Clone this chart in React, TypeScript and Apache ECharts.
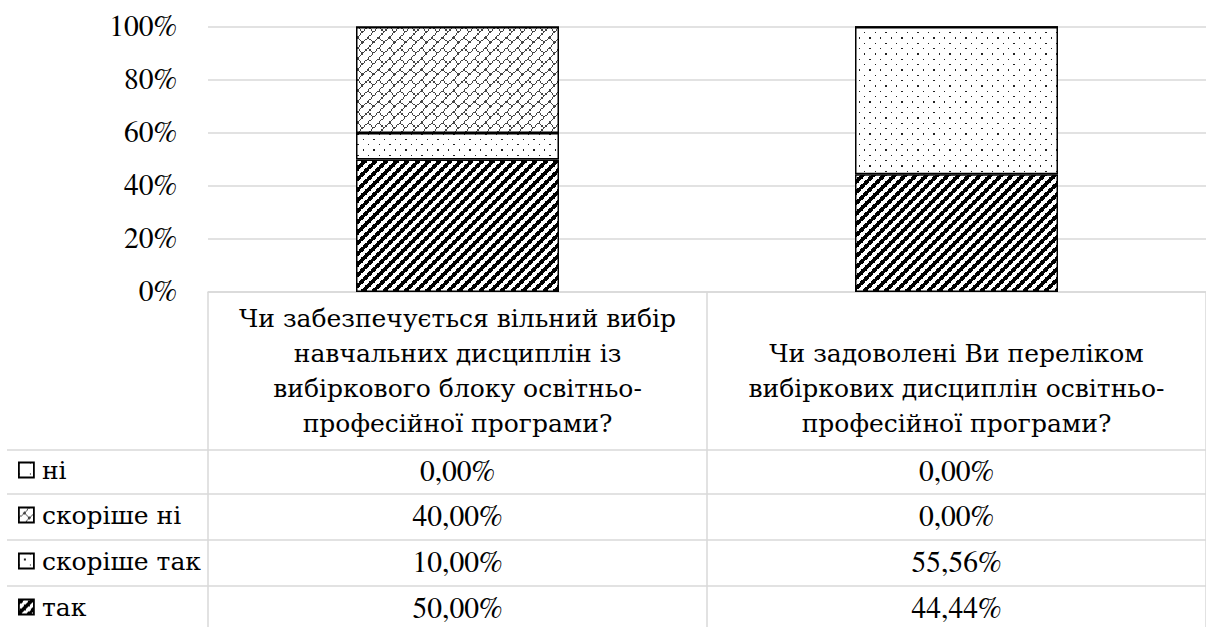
import React, { useEffect, useRef } from 'react';
import * as echarts from 'echarts';

// ---------- data ----------
const CATEGORIES = [
  'Чи забезпечується вільний вибір\nнавчальних дисциплін із\nвибіркового блоку освітньо-\nпрофесійної програми?',
  'Чи задоволені Ви переліком\nвибіркових дисциплін освітньо-\nпрофесійної програми?',
];
const NAME_TAK = 'так';
const NAME_SKORISHE_TAK = 'скоріше так';
const NAME_SKORISHE_NI = 'скоріше ні';
const NAME_NI = 'ні';
const TAK = [0.5, 0.4444];
const SKORISHE_TAK = [0.1, 0.5556];
const SKORISHE_NI = [0.4, 0];
const NI = [0, 0];

// ---------- layout / style ----------
const FONT_NUM = "FreeSerif, 'DejaVu Serif', serif";
const FONT_CYR = "'DejaVu Serif', FreeSerif, serif";
const FS_NUM = 29.5;
const FS_CYR = 25;
const GRID_LEFT = 208;
const GRID_TOP = 27;
const GRID_BOTTOM_Y = 292;
const GRID_W = 1010;
const ROW_LINES = [450, 494, 540, 586];
const ROW_CENTERS = [472, 517, 563, 609];
const LEGEND_SHIFT = 7;
const GRAY = '#d9d9d9';

function makePattern(rows: number[], color: string) {
  const c = document.createElement('canvas');
  c.width = 32;
  c.height = 32;
  const ctx = c.getContext('2d')!;
  ctx.fillStyle = '#ffffff';
  ctx.fillRect(0, 0, 32, 32);
  ctx.fillStyle = color;
  const p = (i: number) => Math.round((i * 4) / 3);
  for (let y = 0; y < 24; y++) {
    for (let x = 0; x < 24; x++) {
      if ((rows[y % 8] >> (7 - (x % 8))) & 1) {
        ctx.fillRect(p(x), p(y), p(x + 1) - p(x), p(y + 1) - p(y));
      }
    }
  }
  return { image: c, repeat: 'repeat', imageWidth: 32, imageHeight: 32 } as any;
}

const fmt = (v: number) => (v * 100).toFixed(2).replace('.', ',') + '%';

export default function App() {
  const ref = useRef<HTMLDivElement>(null);
  useEffect(() => {
    const chart = echarts.init(ref.current!, null, { renderer: 'svg' });

    const patTak = makePattern([0xf0, 0xe1, 0xc3, 0x87, 0x0f, 0x1e, 0x3c, 0x78], '#000000');
    const patSkTak = makePattern([0x80, 0, 0, 0, 0x08, 0, 0, 0], '#222222');
    const patSkNi = makePattern([0x01, 0x02, 0x04, 0x08, 0x18, 0x24, 0x42, 0x81], '#444444');
    const patNi = makePattern([0x80, 0, 0, 0, 0, 0, 0, 0], '#000000');

    const seriesDefs = [
      { name: NAME_TAK, data: TAK, color: patTak },
      { name: NAME_SKORISHE_TAK, data: SKORISHE_TAK, color: patSkTak },
      { name: NAME_SKORISHE_NI, data: SKORISHE_NI, color: patSkNi },
      { name: NAME_NI, data: NI, color: patNi },
    ];
    const tableRows = [
      { name: NAME_NI, data: NI },
      { name: NAME_SKORISHE_NI, data: SKORISHE_NI },
      { name: NAME_SKORISHE_TAK, data: SKORISHE_TAK },
      { name: NAME_TAK, data: TAK },
    ];

    const numText = { fontFamily: FONT_NUM, fontSize: FS_NUM, color: '#000' };
    const cyrText = { fontFamily: FONT_CYR, fontSize: FS_CYR, color: '#000' };

    const tableAxes = tableRows.map((row, i) => ({
      type: 'category',
      data: CATEGORIES,
      gridIndex: 0,
      position: 'bottom',
      offset: ROW_CENTERS[i] - GRID_BOTTOM_Y,
      axisLine: { show: false },
      axisTick: { show: false },
      splitLine: { show: false },
      axisLabel: {
        ...numText,
        interval: 0,
        margin: 0,
        verticalAlign: 'middle',
        formatter: (_v: string, idx: number) => fmt(row.data[idx]),
      },
    }));

    const option: any = {
      animation: false,
      backgroundColor: '#ffffff',
      textStyle: { fontFamily: FONT_CYR },
      grid: { left: GRID_LEFT, top: GRID_TOP, width: GRID_W, height: GRID_BOTTOM_Y - GRID_TOP, containLabel: false },
      xAxis: [
        {
          type: 'category',
          data: CATEGORIES,
          position: 'bottom',
          axisLine: { show: true, lineStyle: { color: GRAY, width: 1.5 } },
          axisTick: { show: true, length: 627 - GRID_BOTTOM_Y, lineStyle: { color: GRAY, width: 1.5 } },
          splitLine: { show: false },
          axisLabel: {
            ...cyrText,
            interval: 0,
            margin: 149,
            lineHeight: 35,
            align: 'center',
            verticalAlign: 'bottom',
          },
        },
        ...tableAxes,
      ],
      yAxis: {
        type: 'value',
        min: 0,
        max: 1,
        interval: 0.2,
        axisLine: { show: false },
        axisTick: { show: false },
        splitLine: { show: true, lineStyle: { color: GRAY, width: 1.5 } },
        axisLabel: {
          ...numText,
          margin: 31,
          formatter: (v: number) => Math.round(v * 100) + '%',
        },
      },
      legend: tableRows.map((row, i) => ({
        data: [row.name],
        left: 18,
        top: ROW_CENTERS[i] - 7.5 - LEGEND_SHIFT,
        orient: 'vertical',
        padding: 0,
        itemWidth: 15,
        itemHeight: 15,
        itemGap: 0,
        selectedMode: false,
        icon: 'rect',
        itemStyle: { borderColor: '#000', borderWidth: 1.8 },
        textStyle: { ...cyrText, padding: [0, 0, 0, 3] },
      })),
      graphic: ROW_LINES.map((y) => ({
        type: 'line',
        shape: { x1: 7, y1: y, x2: 1206, y2: y },
        style: { stroke: GRAY, lineWidth: 1.5 },
        silent: true,
      })),
      series: seriesDefs.map((s) => ({
        type: 'bar',
        name: s.name,
        stack: 'total',
        xAxisIndex: 0,
        data: s.data,
        barWidth: 203,
        itemStyle: { color: s.color, borderColor: '#000', borderWidth: 1.5 },
        emphasis: { disabled: true },
      })),
    };

    chart.setOption(option);
    return () => chart.dispose();
  }, []);

  return (
    <div style={{ position: 'fixed', left: 0, top: 0, width: 1206, height: 627, overflow: 'hidden', background: '#fff' }}>
      <div ref={ref} style={{ width: 1206, height: 627 }} />
    </div>
  );
}
